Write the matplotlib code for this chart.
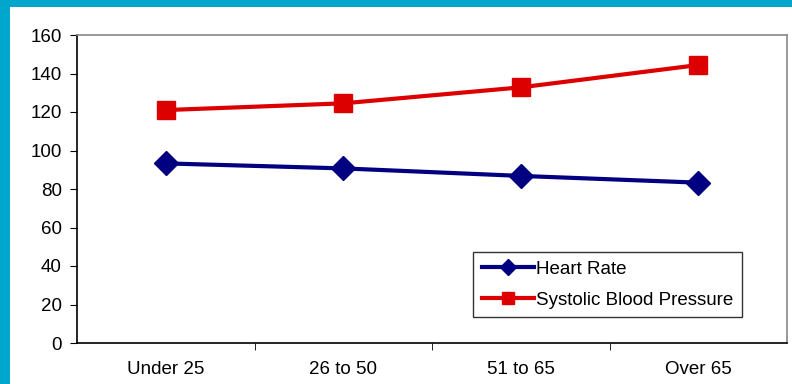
import numpy as np
import matplotlib
matplotlib.use("Agg")
import matplotlib.pyplot as plt
from matplotlib.patches import Rectangle

# data
age_groups = ["Under 25", "26 to 50", "51 to 65", "Over 65"]
heart_rate = [93.3, 90.7, 86.8, 83.3]
systolic_bp = [121.0, 124.5, 132.8, 144.4]
y_ticks = [0, 20, 40, 60, 80, 100, 120, 140, 160]

plt.rcParams["font.family"] = ["Liberation Sans", "DejaVu Sans"]

fig = plt.figure(figsize=(7.92, 3.84), dpi=100)
fig.patch.set_facecolor("#00A6CB")
# white slide panel inside the cyan frame
fig.add_artist(Rectangle((10 / 792, 0), 1, 1 - 7 / 384, transform=fig.transFigure,
                         facecolor="white", edgecolor="none", zorder=-10))

ax = fig.add_axes([77 / 792, 41 / 384, 710 / 792, 308 / 384])
ax.set_facecolor("white")
ax.set_zorder(1)

x = np.arange(len(age_groups))
ax.plot(x, heart_rate, color="#000080", lw=3, marker="D", ms=12,
        label="Heart Rate", clip_on=False, zorder=3)
ax.plot(x, systolic_bp, color="#DD0000", lw=3, marker="s", ms=13,
        label="Systolic Blood Pressure", clip_on=False, zorder=3)

ax.set_xlim(-0.5, len(age_groups) - 0.5)
ax.set_ylim(0, 160)
ax.set_yticks(y_ticks)
ax.set_xticks(x)
ax.set_xticklabels(age_groups)
ax.set_xticks(np.arange(0.5, len(age_groups) - 0.5, 1), minor=True)
ax.tick_params(axis="x", which="major", length=0, pad=13, labelsize=13.5)
ax.tick_params(axis="x", which="minor", length=5, direction="out", color="black")
ax.tick_params(axis="y", length=5, direction="out", labelsize=13.5, pad=6)

for side in ["left", "bottom"]:
    ax.spines[side].set_color("black")
    ax.spines[side].set_linewidth(1.2)
for side in ["top", "right"]:
    ax.spines[side].set_color("#888888")
    ax.spines[side].set_linewidth(1.2)

leg = ax.legend(loc="lower left", bbox_to_anchor=(0.558, 0.084), fontsize=13.5,
                frameon=True, fancybox=False, edgecolor="black", markerscale=0.65,
                handlelength=2.8, handletextpad=0.1, borderpad=0.45,
                labelspacing=0.75, borderaxespad=0)
leg.get_frame().set_linewidth(1.0)

fig.savefig("out.png", dpi=100, facecolor=fig.get_facecolor())
